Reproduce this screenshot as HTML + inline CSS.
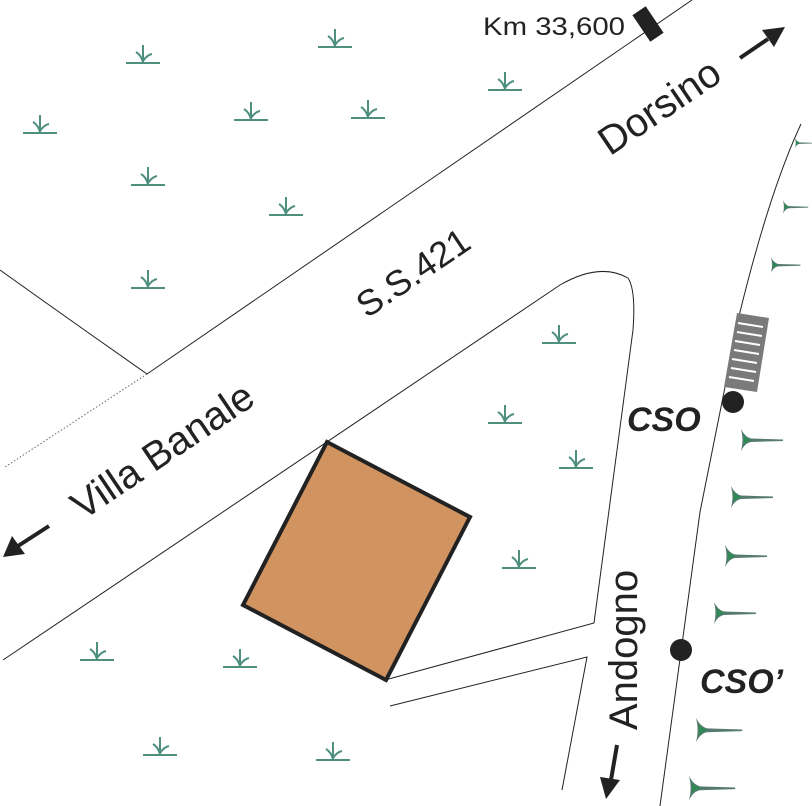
<!DOCTYPE html>
<html><head><meta charset="utf-8"><style>body{margin:0;background:#fff}svg{display:block}</style></head><body>
<svg width="812" height="806" viewBox="0 0 812 806" xmlns="http://www.w3.org/2000/svg" font-family="Liberation Sans, sans-serif">
<defs>
<g id="gr" stroke="#4e8f7e" stroke-width="2" fill="none">
<line x1="-17" y1="0" x2="17" y2="0"/><line x1="0" y1="0" x2="0" y2="-18"/>
<path d="M0,-1 Q-2,-8 -7,-11"/><path d="M0,-2 Q4,-8 9,-9"/></g>
<g id="tr"><path d="M0,-11 Q4,-3 10,-1.5 L42,-0.5 L42,1 L10,2 Q4,3 0,11 Q3,0 0,-11Z" fill="#567a70"/><path d="M2,-6 Q5,-1 12,0 Q5,1 2,6 Q4,0 2,-6Z" fill="#2e8a55"/></g>
</defs>
<g fill="none" stroke="#222" stroke-width="1">
<path d="M147,374 L692,0"/>
<path d="M147,374 L5,467" stroke-dasharray="1.5,2" stroke="#666"/>
<path d="M0,270 Q70,320 147,374"/>
<path d="M3,660 L560,285 Q600,262 628,278 Q636,290 633,330 L594,623 L385,680"/>
<path d="M390,706 L587,657 L562,790"/>
<path d="M801,124 Q770,190 740,312 L700,512 L660,806"/>
</g>
<polygon points="737,313 769,318 757,392 724,387" fill="#7a7a7a"/>
<g stroke="#fff" stroke-width="2"><line x1="738" y1="323" x2="763" y2="327"/><line x1="737" y1="332" x2="762" y2="336"/><line x1="735" y1="341" x2="760" y2="345"/><line x1="734" y1="350" x2="759" y2="354"/><line x1="732" y1="359" x2="757" y2="363"/><line x1="731" y1="368" x2="756" y2="372"/><line x1="729" y1="377" x2="754" y2="381"/></g>
<circle cx="733" cy="402" r="11" fill="#222"/><circle cx="681" cy="650" r="11" fill="#222"/>
<polygon points="327,442 470,517 386,680 243,605" fill="#d19461" stroke="#222" stroke-width="4"/>
<g transform="translate(648,24) rotate(-34)"><rect x="-8" y="-16" width="16" height="32" fill="#222"/></g>
<use href="#gr" x="143" y="63"/><use href="#gr" x="335" y="47"/><use href="#gr" x="505" y="90"/><use href="#gr" x="40" y="133"/><use href="#gr" x="251" y="120"/><use href="#gr" x="368" y="118"/><use href="#gr" x="148" y="185"/><use href="#gr" x="286" y="215"/><use href="#gr" x="148" y="288"/><use href="#gr" x="559" y="343"/><use href="#gr" x="505" y="423"/><use href="#gr" x="576" y="468"/><use href="#gr" x="519" y="568"/><use href="#gr" x="97" y="660"/><use href="#gr" x="240" y="667"/><use href="#gr" x="160" y="755"/><use href="#gr" x="333" y="760"/>
<g transform="translate(795,143) scale(0.45)"><use href="#tr"/></g>
<g transform="translate(783,207) scale(0.6)"><use href="#tr"/></g>
<g transform="translate(771,265) scale(0.7)"><use href="#tr"/></g>
<use href="#tr" x="741" y="440"/><use href="#tr" x="731" y="497"/><use href="#tr" x="725" y="556"/><use href="#tr" x="714" y="613"/>
<g transform="translate(696,730) scale(1.1)"><use href="#tr"/></g>
<g transform="translate(689,788) scale(1.1)"><use href="#tr"/></g>
<text x="483" y="35" font-size="25" fill="#222" textLength="142" lengthAdjust="spacingAndGlyphs">Km 33,600</text>
<text transform="translate(420,283) rotate(-34)" font-size="36" fill="#222" text-anchor="middle">S.S.421</text>
<text transform="translate(170,462) rotate(-34)" font-size="40" fill="#222" text-anchor="middle">Villa Banale</text>
<text transform="translate(667,118) rotate(-34)" font-size="40" fill="#222" text-anchor="middle">Dorsino</text>
<text transform="translate(637,650) rotate(-90)" font-size="40" fill="#222" text-anchor="middle">Andogno</text>
<text x="627" y="431" font-size="34" font-weight="bold" font-style="italic" fill="#222">CSO</text>
<text x="700" y="693" font-size="34" font-weight="bold" font-style="italic" fill="#222">CSO’</text>
<g stroke="#222" stroke-width="4"><line x1="49" y1="526" x2="18" y2="546"/><line x1="740" y1="58" x2="768" y2="39"/><line x1="617" y1="745" x2="611" y2="780"/></g>
<polygon points="3,557 12,536 25,554" fill="#222"/>
<polygon points="785,27 762,30 774,47" fill="#222"/>
<polygon points="606,799 600,777 620,780" fill="#222"/>
</svg>
</body></html>
